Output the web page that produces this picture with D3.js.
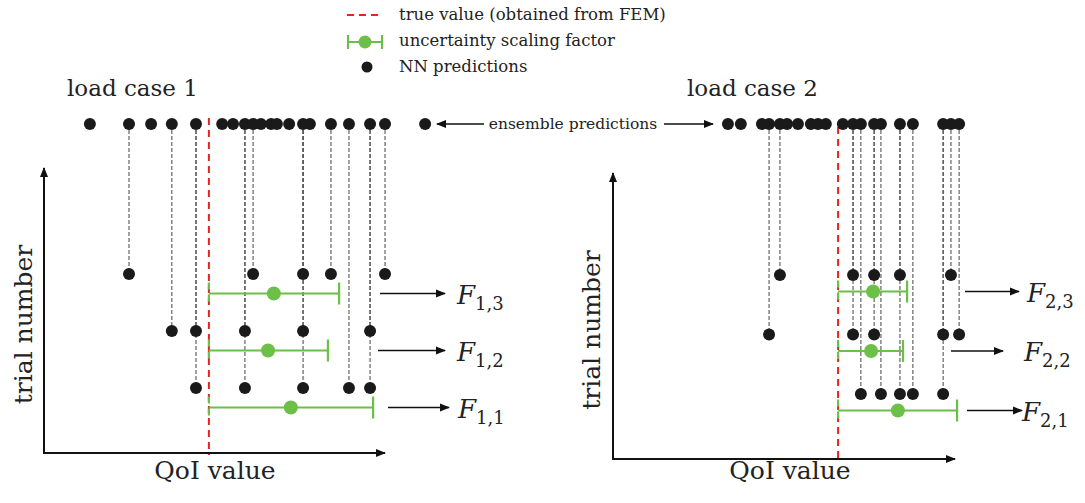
<!DOCTYPE html>
<html>
<head>
<meta charset="utf-8">
<script src="https://cdn.jsdelivr.net/npm/d3@7"></script>
<style>
  html, body { margin: 0; padding: 0; background: #fff; }
  svg { display: block; font-family: "DejaVu Serif", serif; }
</style>
</head>
<body>
<svg id="chart" width="1085" height="503"></svg>
<script>
// ---------- data (QoI units, arbitrary) ----------
const trials = [3, 2, 1];

// load case 1
const ens1 = [1.35, 2.5, 3.15, 3.76, 4.47, 5.24, 5.56, 5.91, 6.15, 6.38, 6.68, 6.85, 7.21, 7.62, 7.82, 8.44, 8.97, 9.59, 10.03, 11.21];
const true1 = 4.85;
const trialPreds1 = [
  [2.5, 6.15, 7.62, 8.44, 10.03],   // trial 3
  [3.76, 4.47, 5.91, 7.62, 9.59],   // trial 2
  [4.47, 5.91, 7.62, 8.97, 9.59]    // trial 1
];
const fMid1 = [6.76, 6.59, 7.26];
const fHigh1 = [8.68, 8.35, 9.68];
const fLabels1 = ["1,3", "1,2", "1,1"];

// load case 2
const ens2 = [3.38, 3.76, 4.38, 4.59, 4.91, 5.12, 5.44, 5.82, 6.03, 6.26, 6.76, 7.06, 7.29, 7.68, 7.88, 8.44, 8.82, 9.71, 9.94, 10.18];
const true2 = 6.62;
const trialPreds2 = [
  [4.91, 7.06, 7.68, 8.44, 9.94],
  [4.59, 7.06, 7.68, 9.71, 10.18],
  [7.29, 7.88, 8.44, 8.82, 9.71]
];
const fMid2 = [7.65, 7.59, 8.38];
const fHigh2 = [8.65, 8.53, 10.12];
const fLabels2 = ["2,3", "2,2", "2,1"];

// ---------- style ----------
const GREEN = "#6cbf47";
const RED = "#e8231d";
const DOT = "#1a1a1a";

const svg = d3.select("#chart");

// arrowhead marker
const defs = svg.append("defs");
defs.append("marker")
  .attr("id", "ah").attr("viewBox", "0 0 10 10")
  .attr("refX", 9).attr("refY", 5)
  .attr("markerWidth", 10).attr("markerHeight", 10)
  .attr("markerUnits", "userSpaceOnUse")
  .attr("orient", "auto")
  .append("path").attr("d", "M0,1 L10,5 L0,9 Z").attr("fill", "#111");

// ---------- legend ----------
const leg = svg.append("g");
leg.append("line").attr("x1", 347).attr("x2", 383).attr("y1", 15).attr("y2", 15)
  .attr("stroke", RED).attr("stroke-width", 2).attr("stroke-dasharray", "7,5");
leg.append("line").attr("x1", 348).attr("x2", 382).attr("y1", 42).attr("y2", 42)
  .attr("stroke", GREEN).attr("stroke-width", 2.2);
[348, 382].forEach(x => leg.append("line").attr("x1", x).attr("x2", x).attr("y1", 35).attr("y2", 49)
  .attr("stroke", GREEN).attr("stroke-width", 2.2));
leg.append("circle").attr("cx", 365).attr("cy", 42).attr("r", 6.5).attr("fill", GREEN);
leg.append("circle").attr("cx", 367).attr("cy", 67).attr("r", 5.5).attr("fill", DOT);
const legText = ["true value (obtained from FEM)", "uncertainty scaling factor", "NN predictions"];
leg.selectAll("text.lt").data(legText).join("text").attr("class", "lt")
  .attr("x", 399).attr("y", (d, i) => 20 + i * 26)
  .attr("font-size", 16.5).attr("fill", "#222").text(d => d);

// ---------- ensemble predictions label ----------
svg.append("line").attr("x1", 484).attr("x2", 437).attr("y1", 124).attr("y2", 124)
  .attr("stroke", "#111").attr("stroke-width", 1.3).attr("marker-end", "url(#ah)");
svg.append("text").attr("x", 573).attr("y", 129).attr("text-anchor", "middle")
  .attr("font-size", 15.5).attr("fill", "#222").text("ensemble predictions");
svg.append("line").attr("x1", 664).attr("x2", 713).attr("y1", 124).attr("y2", 124)
  .attr("stroke", "#111").attr("stroke-width", 1.3).attr("marker-end", "url(#ah)");

// ---------- panels ----------
const panels = [
  {
    title: "load case 1", ens: ens1, truth: true1, preds: trialPreds1, mid: fMid1, high: fHigh1, lab: fLabels1,
    ax: 44, axEnd: 385, axTop: 168, axBot: 453, xr: [44, 384], rows: [388, 274], barOff: 19.5,
    titleX: 67, topY: 124, redTop: 118,
    arrows: [[380, 445], [378, 445], [388, 449]], labX: [457, 457, 458], labDy: [10, 10, 10],
    qoiX: 215, trialX: 32
  },
  {
    title: "load case 2", ens: ens2, truth: true2, preds: trialPreds2, mid: fMid2, high: fHigh2, lab: fLabels2,
    ax: 613, axEnd: 955, axTop: 173, axBot: 459, xr: [613, 953], rows: [394, 275], barOff: 16.5,
    titleX: 687, topY: 124, redTop: 127,
    arrows: [[965, 1019], [951, 1003], [967, 1022]], labX: [1027, 1024, 1022], labDy: [10, 10, 10],
    qoiX: 790, trialX: 600
  }
];

panels.forEach(p => {
  const g = svg.append("g");
  const x = d3.scaleLinear().domain([0, 10]).range(p.xr);
  const y = d3.scaleLinear().domain([1, 3]).range(p.rows);

  // title
  g.append("text").attr("x", p.titleX).attr("y", 96).attr("font-size", 23).attr("fill", "#222").text(p.title);

  // axes
  g.append("path").attr("d", `M${p.ax},${p.axBot} L${p.ax},${p.axTop}`)
    .attr("stroke", "#111").attr("stroke-width", 2).attr("fill", "none").attr("marker-end", "url(#ah)");
  g.append("path").attr("d", `M${p.ax - 1},${p.axBot} L${p.axEnd},${p.axBot}`)
    .attr("stroke", "#111").attr("stroke-width", 2).attr("fill", "none").attr("marker-end", "url(#ah)");
  g.append("text").attr("x", p.qoiX).attr("y", 479).attr("text-anchor", "middle")
    .attr("font-size", 25).attr("fill", "#222").text("QoI value");
  g.append("text").attr("transform", `translate(${p.trialX},${(p.axTop + p.axBot) / 2 + 14}) rotate(-90)`)
    .attr("text-anchor", "middle").attr("font-size", 25).attr("fill", "#222").text("trial number");

  // dashed connectors from ensemble to trial predictions
  const conn = [];
  p.preds.forEach((arr, i) => arr.forEach(v => conn.push({ v, t: trials[i] })));
  g.selectAll("line.conn").data(conn).join("line").attr("class", "conn")
    .attr("x1", d => x(d.v)).attr("x2", d => x(d.v))
    .attr("y1", p.topY).attr("y2", d => y(d.t))
    .attr("stroke", "#555").attr("stroke-width", 1.1).attr("stroke-dasharray", "4,2");

  // true value
  g.append("line").attr("x1", x(p.truth)).attr("x2", x(p.truth))
    .attr("y1", p.redTop).attr("y2", p.axBot + 2)
    .attr("stroke", RED).attr("stroke-width", 2).attr("stroke-dasharray", "7,5");

  // ensemble dots
  g.selectAll("circle.ens").data(p.ens).join("circle").attr("class", "ens")
    .attr("cx", d => x(d)).attr("cy", p.topY).attr("r", 6).attr("fill", DOT);

  // trial dots
  g.selectAll("circle.tr").data(conn).join("circle").attr("class", "tr")
    .attr("cx", d => x(d.v)).attr("cy", d => y(d.t)).attr("r", 6).attr("fill", DOT);

  // uncertainty scaling factor bars
  trials.forEach((t, i) => {
    const yy = y(t) + p.barOff;
    const x0 = x(p.truth), x1 = x(p.high[i]);
    g.append("line").attr("x1", x0).attr("x2", x1).attr("y1", yy).attr("y2", yy)
      .attr("stroke", GREEN).attr("stroke-width", 2.2);
    [x0, x1].forEach(xx => g.append("line").attr("x1", xx).attr("x2", xx)
      .attr("y1", yy - 11).attr("y2", yy + 11).attr("stroke", GREEN).attr("stroke-width", 2.2)
      .attr("stroke-dasharray", xx === x0 ? "7,5" : null));
    g.append("circle").attr("cx", x(p.mid[i])).attr("cy", yy).attr("r", 7).attr("fill", GREEN);

    // arrow + label
    const a = p.arrows[i];
    g.append("line").attr("x1", a[0]).attr("x2", a[1]).attr("y1", yy).attr("y2", yy)
      .attr("stroke", "#111").attr("stroke-width", 1.6).attr("marker-end", "url(#ah)");
    const tx = g.append("text").attr("x", p.labX[i]).attr("y", yy + p.labDy[i]).attr("fill", "#222");
    tx.append("tspan").attr("font-size", 26).attr("font-style", "italic").text("F");
    tx.append("tspan").attr("font-size", 18).attr("dy", 6).text(p.lab[i]);
  });
});
</script>
</body>
</html>
